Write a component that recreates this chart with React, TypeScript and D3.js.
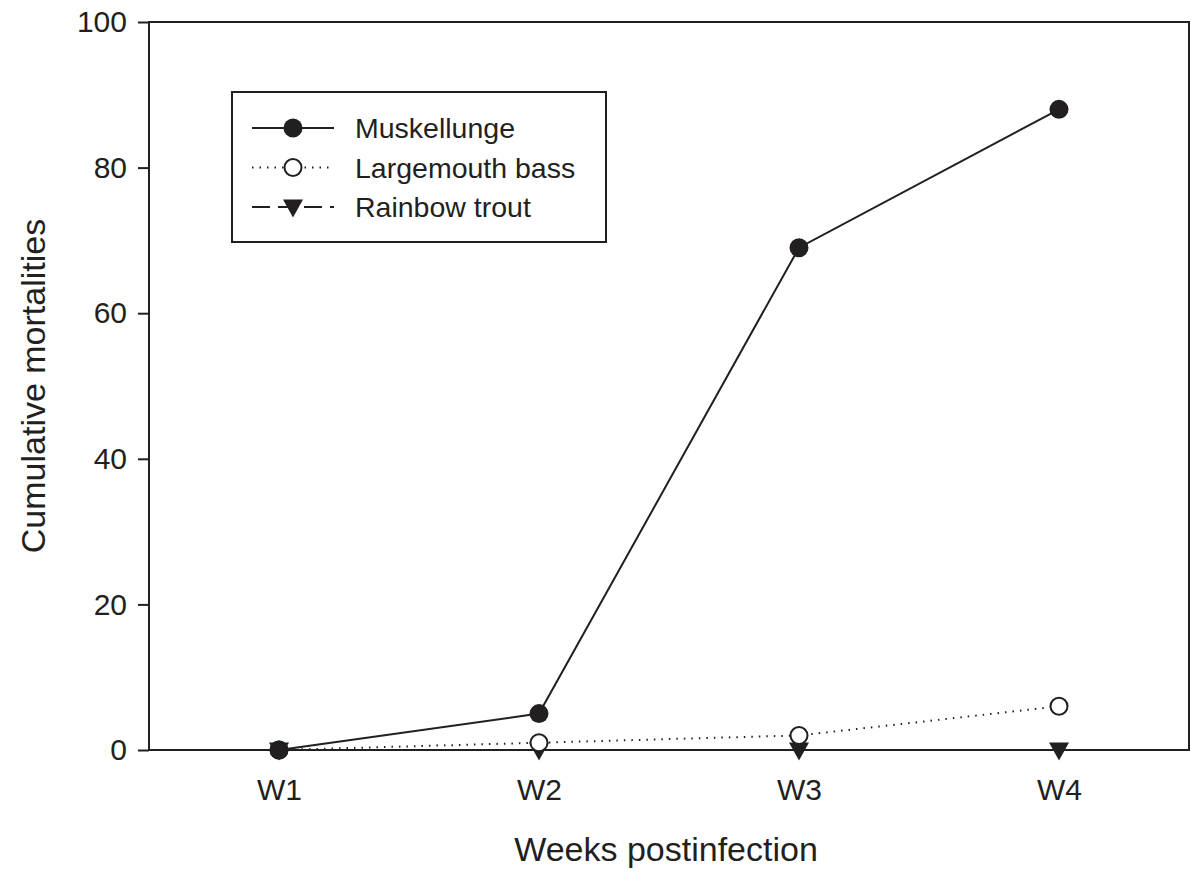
import React, { useEffect, useRef } from 'react';
import * as d3 from 'd3';

const weeks = ['W1', 'W2', 'W3', 'W4'];
const muskellunge = [0, 5, 69, 88];
const largemouthBass = [0, 1, 2, 6];
const rainbowTrout = [0, 0, 0, 0];
const yTicks = [0, 20, 40, 60, 80, 100];

const seriesList = [
  { name: 'Muskellunge', values: muskellunge, dash: null, marker: 'filled' },
  { name: 'Largemouth bass', values: largemouthBass, dash: '1.5,6', marker: 'open' },
  { name: 'Rainbow trout', values: rainbowTrout, dash: '18,8', marker: 'triangle' },
];

export default function App() {
  const ref = useRef<SVGSVGElement>(null);

  useEffect(() => {
    const svg = d3.select(ref.current);
    svg.selectAll('*').remove();

    const W = 1191, H = 875;
    const left = 149, right = 1189, top = 22, bottom = 750;
    const font = 'Liberation Sans, Arial, sans-serif';
    const ink = '#231f20';

    const x = d3.scaleLinear().domain([0.5, weeks.length + 0.5]).range([left, right]);
    const y = d3.scaleLinear().domain([0, 100]).range([bottom, top]);

    svg.append('rect').attr('width', W).attr('height', H).attr('fill', '#fff');

    // frame
    svg.append('rect')
      .attr('x', left).attr('y', top)
      .attr('width', right - left).attr('height', bottom - top)
      .attr('fill', 'none').attr('stroke', ink).attr('stroke-width', 2);

    // y axis
    const yAxis = d3.axisLeft(y).tickValues(yTicks).tickSize(11).tickPadding(11);
    const gy = svg.append('g').attr('transform', `translate(${left},0)`).call(yAxis);
    gy.select('.domain').remove();
    gy.selectAll('line').attr('stroke', ink).attr('stroke-width', 2);
    gy.selectAll('text').attr('font-family', font).attr('font-size', 30).attr('fill', ink);

    // x axis labels
    const xAxis = d3.axisBottom(x).tickValues(d3.range(1, weeks.length + 1))
      .tickFormat((d: any) => weeks[d - 1]).tickSize(0).tickPadding(29);
    const gx = svg.append('g').attr('transform', `translate(0,${bottom})`).call(xAxis);
    gx.select('.domain').remove();
    gx.selectAll('text').attr('font-family', font).attr('font-size', 30).attr('fill', ink);

    // axis titles
    svg.append('text')
      .attr('x', 666).attr('y', 861)
      .attr('text-anchor', 'middle').attr('font-family', font).attr('font-size', 34)
      .attr('fill', ink).text('Weeks postinfection');
    svg.append('text')
      .attr('transform', `translate(45,386) rotate(-90)`)
      .attr('text-anchor', 'middle').attr('font-family', font).attr('font-size', 34)
      .attr('fill', ink).text('Cumulative mortalities');

    const line = d3.line<number>().x((d, i) => x(i + 1)).y(d => y(d));

    const drawMarker = (g: any, kind: string, cx: number, cy: number) => {
      if (kind === 'filled') {
        g.append('circle').attr('cx', cx).attr('cy', cy).attr('r', 9.5).attr('fill', ink);
      } else if (kind === 'open') {
        g.append('circle').attr('cx', cx).attr('cy', cy).attr('r', 8.5)
          .attr('fill', '#fff').attr('stroke', ink).attr('stroke-width', 2);
      } else {
        const s = 10;
        g.append('path')
          .attr('d', `M${cx - s},${cy - s * 0.75}L${cx + s},${cy - s * 0.75}L${cx},${cy + s * 1.05}Z`)
          .attr('fill', ink);
      }
    };

    // series: draw in reverse so muskellunge on top
    [...seriesList].reverse().forEach(s => {
      const g = svg.append('g');
      g.append('path').datum(s.values).attr('d', line)
        .attr('fill', 'none').attr('stroke', ink).attr('stroke-width', 2)
        .attr('stroke-dasharray', s.dash);
      s.values.forEach((v, i) => drawMarker(g, s.marker, x(i + 1), y(v)));
    });

    // legend
    const lg = svg.append('g');
    lg.append('rect').attr('x', 232).attr('y', 92).attr('width', 374).attr('height', 150)
      .attr('fill', '#fff').attr('stroke', ink).attr('stroke-width', 2);
    seriesList.forEach((s, i) => {
      const ly = 128 + i * 39.5;
      lg.append('line').attr('x1', 252).attr('x2', 334).attr('y1', ly).attr('y2', ly)
        .attr('stroke', ink).attr('stroke-width', 2).attr('stroke-dasharray', s.dash);
      drawMarker(lg, s.marker, 293, ly);
      lg.append('text').attr('x', 355).attr('y', ly + 10)
        .attr('font-family', font).attr('font-size', 28.5).attr('fill', ink).text(s.name);
    });
  }, []);

  return (
    <svg ref={ref} width={1191} height={875}
      style={{ position: 'absolute', left: 0, top: 0, display: 'block' }} />
  );
}
